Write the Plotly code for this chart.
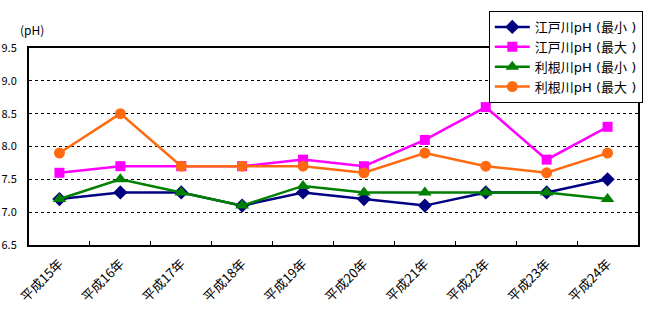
import plotly.graph_objects as go

years = ["平成15年", "平成16年", "平成17年", "平成18年", "平成19年",
         "平成20年", "平成21年", "平成22年", "平成23年", "平成24年"]
edo_min = [7.2, 7.3, 7.3, 7.1, 7.3, 7.2, 7.1, 7.3, 7.3, 7.5]
edo_max = [7.6, 7.7, 7.7, 7.7, 7.8, 7.7, 8.1, 8.6, 7.8, 8.3]
tone_min = [7.2, 7.5, 7.3, 7.1, 7.4, 7.3, 7.3, 7.3, 7.3, 7.2]
tone_max = [7.9, 8.5, 7.7, 7.7, 7.7, 7.6, 7.9, 7.7, 7.6, 7.9]

series = [
    ("江戸川pH (最小 )", edo_min, "#000080", "diamond", 11),
    ("江戸川pH (最大 )", edo_max, "#FF00FF", "square", 10),
    ("利根川pH (最小 )", tone_min, "#008000", "triangle-up", 12),
    ("利根川pH (最大 )", tone_max, "#FF6A10", "circle", 11),
]

font = "Noto Sans CJK JP, Noto Sans, sans-serif"
legend_font = "DejaVu Sans, Noto Sans CJK JP, sans-serif"
fig = go.Figure()
for name, vals, color, sym, size in series:
    fig.add_trace(go.Scatter(
        x=years, y=vals, name=name, mode="lines+markers",
        line=dict(color=color, width=2.5),
        marker=dict(symbol=sym, size=size, color=color),
    ))

fig.update_layout(
    width=661, height=320,
    margin=dict(l=29, r=23, t=47, b=75),
    paper_bgcolor="white", plot_bgcolor="white",
    font=dict(family=font, size=11, color="black"),
    showlegend=True,
    legend=dict(
        x=0.755, y=1.182, xanchor="left", yanchor="top",
        bgcolor="white", bordercolor="black", borderwidth=1,
        font=dict(size=13, family=legend_font), tracegroupgap=0,
        itemwidth=35,
    ),
    xaxis=dict(
        type="category", tickangle=-45, ticks="inside", tickson="boundaries",
        ticklen=4, tickcolor="black", showline=True, linecolor="black",
        linewidth=2, mirror=True, showgrid=False, range=[-0.5, 9.5],
        tickfont=dict(size=13), ticklabelstandoff=4, automargin=False,
    ),
    yaxis=dict(
        range=[6.5, 9.5], dtick=0.5, tickformat=".1f",
        showline=True, linecolor="black", linewidth=2, mirror=True,
        showgrid=True, gridcolor="black", griddash="dot", gridwidth=1,
        zeroline=False, ticks="", tickfont=dict(size=11),
        ticklabelstandoff=8, automargin=False,
    ),
    annotations=[dict(
        text="(pH)", xref="paper", yref="paper", x=-0.018, y=1.096,
        xanchor="left", yanchor="middle", showarrow=False,
        font=dict(size=12),
    )],
)

fig.write_html("out.html")
